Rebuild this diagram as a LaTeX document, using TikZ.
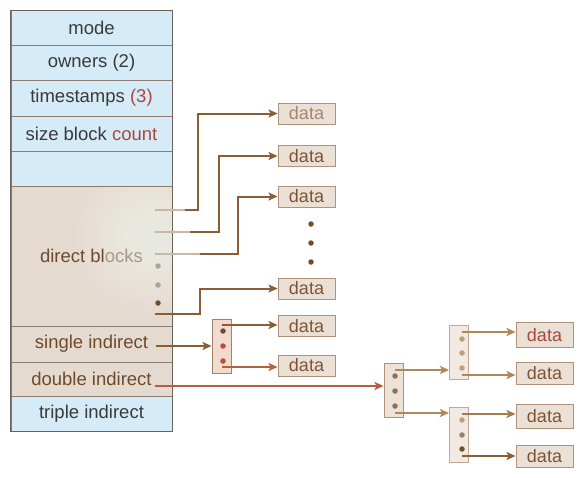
\documentclass[tikz,border=0pt]{standalone}
\usepackage{fontspec}
\setmainfont{Liberation Sans}
\usetikzlibrary{arrows.meta,calc}
\definecolor{ibl}{HTML}{D6EBF8}
\definecolor{ibeige}{HTML}{E4DAD0}
\definecolor{rowline}{HTML}{8C7C6E}
\definecolor{frame}{HTML}{6E6258}
\definecolor{txtgray}{HTML}{3A3A3A}
\definecolor{txtbrown}{HTML}{6E4A2E}
\definecolor{txtlight}{HTML}{A8988A}
\definecolor{redtxt}{HTML}{A8483A}
\definecolor{datafill}{HTML}{EBE0D6}
\definecolor{databd}{HTML}{B0927A}
\definecolor{datatxt}{HTML}{7E5434}
\definecolor{arrc}{HTML}{8A5E34}
\definecolor{arrlight}{HTML}{C9B8A6}
\definecolor{arrred}{HTML}{B5603A}
\definecolor{arrtan}{HTML}{AE875A}
\definecolor{dotdark}{HTML}{6E4E2C}
\definecolor{dotred}{HTML}{B5503A}
\definecolor{dottan}{HTML}{BFA07A}
\definecolor{dotgray}{HTML}{B0A294}
\definecolor{sibfill}{HTML}{F2DACE}
\definecolor{blkfill}{HTML}{EDE2D7}
\definecolor{blkfill2}{HTML}{F2EAE2}
\begin{document}
\begin{tikzpicture}[x=1pt,y=-1pt,
  txt/.style={font=\fontsize{18.5}{21}\selectfont},
  dtxt/.style={font=\fontsize{18}{20}\selectfont},
  row/.style={draw=rowline, line width=0.9pt, minimum width=161pt, inner sep=0pt, txt, text=txtgray},
  datab/.style={draw=databd, line width=0.9pt, fill=datafill, text=datatxt, minimum width=57pt, minimum height=21pt, inner sep=0pt, dtxt},
  blk/.style={draw=databd, line width=0.9pt, minimum width=19pt, minimum height=54pt, inner sep=0pt},
  arr/.style={draw=arrc, line width=2pt, -{Stealth[length=9pt,width=8pt,inset=2pt]}},
  pdot/.style={circle, inner sep=0pt, minimum size=5.5pt},
  glowstep/.style={fill=white, opacity=0.045, draw=none}
]
\useasboundingbox (0,0) rectangle (583,477);

% inode rows
\node[row, fill=ibl, minimum height=34.5pt] (mode) at (91.5,28) {mode};
\node[row, fill=ibl, minimum height=35pt] (owners) at (91.5,62.5) {owners (2)};
\node[row, fill=ibl, minimum height=36pt] (times) at (91.5,98) {timestamps \textcolor{redtxt}{(3)}};
\node[row, fill=ibl, minimum height=35pt] (size) at (91.5,133.5) {size block \textcolor{redtxt}{count}};
\node[row, fill=ibl, minimum height=35pt] (blank) at (91.5,168.5) {};
\node[row, fill=ibeige, minimum height=140pt, text=txtbrown,
  path picture={\foreach \r in {76,72,...,8} {\fill[glowstep] ($(path picture bounding box.center)+(58,-20)$) circle (\r pt);}}] (direct) at (91.5,256) {direct bl\textcolor{txtlight}{ocks}};
\node[row, fill=ibeige, minimum height=36pt, text=txtbrown] (single) at (91.5,344) {single indirect};
\node[row, fill=ibeige, minimum height=34pt, text=txtbrown] (double) at (91.5,379) {double indirect};
\node[row, fill=ibl, minimum height=35pt] (triple) at (91.5,413.5) {triple indirect};
\draw[frame, line width=1pt] (mode.north west) rectangle (triple.south east);

% direct block pointers
\coordinate (d1s) at (155,210);
\coordinate (d2s) at (155,232);
\coordinate (d3s) at (155,254);
\coordinate (d4s) at (155,314);
\node[pdot, fill=dotgray] (dd1) at (158,266) {};
\node[pdot, fill=dotgray] (dd2) at (158,285) {};
\node[pdot, fill=dotdark] (dd3) at (158,303) {};

\node[datab, text=datatxt!70] (data1) at (306.5,113.5) {data};
\node[datab] (data2) at (306.5,156) {data};
\node[datab] (data3) at (306.5,196.5) {data};
\node[datab] (data4) at (306.5,288.5) {data};
\node[datab] (data5) at (306.5,326) {data};
\node[datab] (data6) at (306.5,365.5) {data};
\node[pdot, fill=dotdark] (vd1) at (311,224) {};
\node[pdot, fill=dotdark] (vd2) at (311,243) {};
\node[pdot, fill=dotdark] (vd3) at (311,262) {};

\draw[arr] (d1s) -- ++(43,0) |- (data1.west);
\draw[arr] (d2s) -- ++(64,0) |- (data2.west);
\draw[arr] (d3s) -- ++(83,0) |- (data3.west);
\draw[arr] (d4s) -- ++(45,0) |- (data4.west);
\draw[arrlight, line width=2pt] (d1s) -- ++(30,0);
\draw[arrlight, line width=2pt] (d2s) -- ++(35,0);
\draw[arrlight, line width=2pt] (d3s) -- ++(45,0);

% single indirect
\node[blk, fill=sibfill, draw=databd!90!black] (sib) at (221.5,346) {};
\node[pdot, fill=dotdark] (sd1) at (223,331) {};
\node[pdot, fill=dotred] (sd2) at (223,346) {};
\node[pdot, fill=dotred] (sd3) at (223,361) {};
\coordinate (sis) at (156,346);
\draw[arr] (sis) -- (sib.west);
\coordinate (s1) at (222,325);
\coordinate (s2) at (222,367);
\draw[arr] (s1) -- (s1 -| data5.west);
\draw[arr, draw=arrred] (s2) -- (s2 -| data6.west);

% double indirect
\node[blk, fill=blkfill] (dib) at (393.5,390) {};
\node[pdot, fill=dotdark!80] (bd1) at (395,376) {};
\node[pdot, fill=dotdark!80] (bd2) at (395,391) {};
\node[pdot, fill=dotdark!80] (bd3) at (395,406) {};
\coordinate (dis) at (155,386);
\draw[arr, draw=arrred] (dis) -- (dis -| dib.west);

\node[blk, fill=blkfill2, draw=databd!80] (l2a) at (459,352) {};
\node[blk, fill=blkfill2, draw=databd!80, minimum height=55pt] (l2b) at (459,434.5) {};
\node[pdot, fill=dottan] (ad1) at (462,339) {};
\node[pdot, fill=dottan] (ad2) at (462,353) {};
\node[pdot, fill=dottan] (ad3) at (462,368) {};
\node[pdot, fill=dottan] (bd1b) at (462,420) {};
\node[pdot, fill=dottan!80!black] (bd2b) at (462,435) {};
\node[pdot, fill=dotdark] (bd3b) at (462,449) {};

\coordinate (b1) at (395,370);
\coordinate (b2) at (395,413);
\draw[arr, draw=arrtan] (b1) -- (b1 -| l2a.west);
\draw[arr, draw=arrtan] (b2) -- (b2 -| l2b.west);

\node[datab, minimum height=25pt, text=redtxt] (dA) at (544.5,335) {data};
\node[datab, minimum height=22pt] (dB) at (544.5,373.5) {data};
\node[datab, minimum height=24pt] (dC) at (544.5,416) {data};
\node[datab, minimum height=22pt] (dD) at (544.5,456.5) {data};

\coordinate (a1) at (462,332);
\coordinate (a2) at (462,375);
\coordinate (a3) at (462,414);
\coordinate (a4) at (462,456);
\draw[arr, draw=arrtan] (a1) -- (a1 -| dA.west);
\draw[arr, draw=arrtan] (a2) -- (a2 -| dB.west);
\draw[arr, draw=arrtan!70!arrc] (a3) -- (a3 -| dC.west);
\draw[arr] (a4) -- (a4 -| dD.west);
\end{tikzpicture}
\end{document}
